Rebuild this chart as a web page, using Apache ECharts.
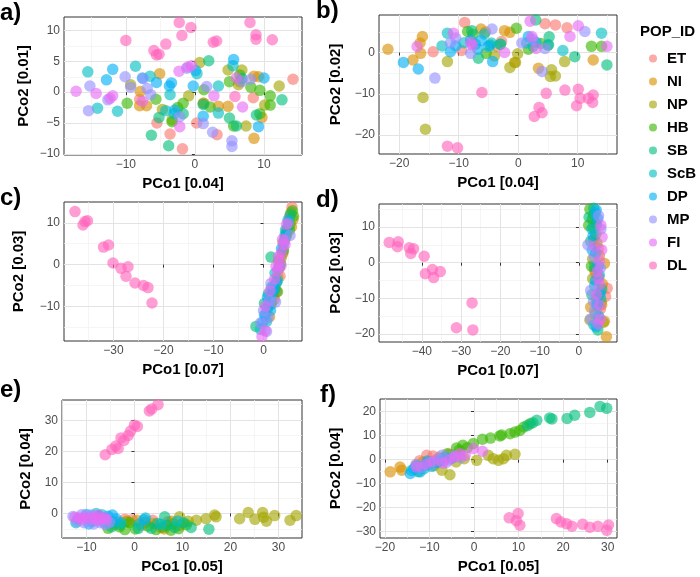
<!DOCTYPE html>
<html>
<head>
<meta charset="utf-8">
<script src="https://cdn.jsdelivr.net/npm/echarts@6/dist/echarts.min.js"></script>
<style>
html,body{margin:0;padding:0;background:#fff;}
#chart{width:700px;height:577px;}
</style>
</head>
<body>
<div id="chart"></div>
<script>
// ---- categories & colours ----
const POP_IDS = ['ET','NI','NP','HB','SB','ScB','DP','MP','FI','DL'];
const COLORS = ['#F8766D','#D89000','#A3A500','#39B600','#00BF7D','#00BFC4','#00B0F6','#9590FF','#E76BF3','#FF62BC'];
const PANEL_LABELS = ['a)','b)','c)','d)','e)','f)'];
const X_TITLES = ['PCo1 [0.04]','PCo1 [0.04]','PCo1 [0.07]','PCo1 [0.07]','PCo1 [0.05]','PCo1 [0.05]'];
const Y_TITLES = ['PCo2 [0.01]','PCo2 [0.02]','PCo2 [0.03]','PCo2 [0.03]','PCo2 [0.04]','PCo2 [0.04]'];

// ---- tick values ----
const A_X_TICKS = [-10,0,10];            const A_X_MINOR = [-15,-5,5,15];
const A_Y_TICKS = [-10,-5,0,5,10];       const A_Y_MINOR = [-7.5,-2.5,2.5,7.5];
const B_X_TICKS = [-20,-10,0,10];        const B_X_MINOR = [-15,-5,5,15];
const B_Y_TICKS = [-20,-10,0];           const B_Y_MINOR = [-15,-5,5];
const C_X_TICKS = [-30,-20,-10,0];       const C_X_MINOR = [-35,-25,-15,-5,5];
const C_Y_TICKS = [-10,0,10];            const C_Y_MINOR = [-15,-5,5];
const D_X_TICKS = [-40,-30,-20,-10,0];   const D_X_MINOR = [-45,-35,-25,-15,-5,5];
const D_Y_TICKS = [-20,-10,0,10];        const D_Y_MINOR = [-15,-5,5,15];
const E_X_TICKS = [-10,0,10,20,30];      const E_X_MINOR = [-15,-5,5,15,25];
const E_Y_TICKS = [0,10,20,30];          const E_Y_MINOR = [-5,5,15,25,35];
const F_X_TICKS = [-20,-10,0,10,20,30];  const F_X_MINOR = [-15,-5,5,15,25];
const F_Y_TICKS = [-30,-20,-10,0,10,20]; const F_Y_MINOR = [-25,-15,-5,5,15];

// ---- panel a ----
const A_ET = [[-5.5,-5.0],[-3.6,-6.8],[-1.8,-9.2],[0.25,-5.0],[3.2,-6.9],[8.45,-0.9],[14.2,2.1],[-8.0,-1.2]];
const A_NI = [[-7.9,0.1],[-7.0,-2.2],[-5.1,3.0],[-8.0,-2.2],[1.2,-1.8],[3.4,-2.3],[4.8,-2.3],[6.5,1.7],[8.55,2.6],[9.2,2.5],[9.7,-4.1],[8.55,-7.5]];
const A_NP = [[-9.3,1.2],[-4.7,-2.8],[-0.9,-0.6],[0.7,4.8],[1.3,-1.8],[4.8,3.6],[6.8,3.6],[7.4,-5.5],[10.1,-2.1],[12.2,1.0],[-3.3,-4.5],[6.3,1.2]];
const A_HB = [[-9.8,-1.8],[-5.65,-1.15],[-3.3,-4.8],[-1.7,-1.8],[1.3,0.4],[2.2,-2.4],[5.0,1.7],[6.5,2.8],[8.1,0.8],[9.4,0.3],[10.9,-2.1],[5.6,-5.5],[9.4,-3.5],[10.9,-0.6],[-2.5,-2.5]];
const A_SB = [[-6.3,-7.0],[-3.8,-8.7],[2.0,5.1],[-5.2,-4.1],[8.9,-3.7],[12.6,-1.25],[5.0,-4.2],[6.0,-5.5],[-1.7,-3.5],[1.2,-2.0],[6.8,2.2]];
const A_ScB = [[-15.5,3.3],[-14.1,-2.6],[-11.2,-3.1],[-8.6,4.2],[-6.5,2.6],[-3.6,-0.4],[3.4,1.0],[3.4,-3.4],[5.5,4.3],[-4.2,-3.0],[0.3,3.0],[-3.0,-3.5]];
const A_DP = [[-12.8,2.0],[-11.9,3.7],[-7.6,2.3],[-5.56,1.56],[-3.4,1.5],[-0.24,1.0],[0.1,3.5],[5.6,5.3],[9.2,-5.6],[10.0,2.3],[1.2,-3.9],[-2.9,-2.9],[-3.7,1.0]];
const A_MP = [[-15.2,1.0],[-15.4,-3.0],[-12.6,-1.25],[-10.1,2.5],[-9.3,0.8],[-6.9,0.6],[-6.4,-0.4],[-1.2,3.9],[1.2,-5.1],[2.56,-6.5],[5.36,-7.9],[5.36,-8.8],[8.07,2.1],[-2.2,-4.0],[1.7,0.9],[6.8,1.7],[-7.5,2.2]];
const A_FI = [[-17.2,0.15],[-14.3,-0.2],[-11.9,-0.6],[-2.3,3.4],[-1.0,4.1],[-0.5,4.3],[-7.6,-1.5],[6.9,-2.4],[6.0,2.3],[2.75,-0.6],[-2.2,-5.6],[-12.3,-1.0]];
const A_DL = [[-2.27,11.3],[-0.58,10.5],[-1.88,9.2],[-10.0,8.4],[-5.94,6.75],[-5.56,6.05],[-5.2,6.16],[-4.2,7.8],[2.66,8.1],[3.14,8.3],[7.97,11.3],[8.84,9.3],[8.84,8.6],[11.2,8.5],[5.8,-0.7]];

// ---- panel b ----
const B_ET = [[-14.3,0.2],[-9.0,7.3],[-9.5,0.5],[-2.8,2.7],[4.5,7.0],[6.25,6.7],[8.2,6.0],[-3.5,1.5]];
const B_NI = [[-21.9,0.8],[-16.1,3.9],[-16.5,2.3],[-17.7,-1.8],[-16.4,-0.2],[-6.25,5.7],[-2.3,5.3],[-1.4,4.9],[-0.6,-2.4],[3.4,-3.8],[12.6,-1.8],[-5.5,5.0]];
const B_NP = [[-11.9,-2.2],[-16.0,-10.9],[-15.6,-18.6],[-1.4,-3.6],[-0.1,-0.3],[-0.45,-2.4],[5.6,-4.2],[5.4,-5.8],[6.25,-5.7],[7.8,-2.2],[-4.0,-0.8]];
const B_HB = [[-8.5,5.1],[-0.3,5.9],[-5.4,-0.2],[-7.6,4.4],[1.7,0.8],[5.0,1.8],[12.3,1.5],[14.0,1.5],[-3.0,2.0],[3.8,2.2]];
const B_SB = [[-6.7,-1.4],[2.95,7.9],[-7.8,5.3],[9.5,-1.0],[14.9,-3.0],[5.2,3.8],[-4.7,1.8],[2.5,1.5]];
const B_ScB = [[-12.8,1.6],[-11.9,4.7],[-9.1,2.4],[-4.5,2.3],[-5.7,4.5],[1.4,2.3],[5.1,1.9],[14.0,4.7],[-3.0,2.0],[7.5,0.5],[-7.2,2.0]];
const B_DP = [[-19.3,-2.4],[-16.8,-4.0],[-10.5,1.6],[-6.8,0.8],[-4.3,-2.2],[-6.25,2.9],[1.7,3.9],[-11.4,0.2],[3.0,2.5],[-8.0,3.0],[-5.0,1.5]];
const B_MP = [[-14.0,-6.2],[-11.4,2.3],[-4.4,5.7],[-8.0,-0.2],[0.6,2.3],[4.0,-4.6],[11.2,5.1],[4.5,1.0],[-10.5,3.5],[2.4,3.2]];
const B_FI = [[-17.0,1.45],[-10.9,4.7],[-8.0,2.4],[-2.3,0.0],[2.0,7.6],[2.3,3.9],[10.1,6.5],[14.9,1.5],[3.0,1.0],[8.7,3.9],[-7.7,1.8]];
const B_DL = [[-6.1,-9.7],[-11.9,-22.7],[-10.2,-23.1],[4.7,-9.9],[3.5,-13.3],[2.7,-15.5],[4.0,-14.6],[7.85,-9.1],[10.1,-8.9],[10.4,-11.1],[11.8,-11.1],[12.6,-10.3],[12.5,-12.1],[9.8,-12.9]];

// ---- panel c ----
const C_ET = [[5.7,13.8],[5.2,11.5],[4.6,7.8],[3.8,2.5],[3.3,-2.8],[2.6,-6.5],[4.9,9.2],[2.2,-8.3]];
const C_NI = [[5.5,12.5],[5.9,10.8],[4.4,6.5],[3.9,5.2],[2.8,-3.0],[2.0,-7.5],[1.2,-12.5],[4.7,8.0],[3.0,0.8],[5.6,9.0]];
const C_NP = [[5.0,10.2],[4.2,5.7],[3.5,1.5],[2.5,-4.5],[1.6,-9.0],[4.6,7.2],[3.1,-1.0],[1.8,-7.0],[3.9,3.0]];
const C_HB = [[5.8,12.9],[6.0,11.6],[5.3,9.7],[4.5,6.8],[3.4,0.2],[2.3,-5.8],[1.5,-9.5],[2.8,-6.5],[4.0,3.5],[5.2,8.3]];
const C_SB = [[5.4,12.0],[4.8,8.6],[1.5,1.8],[2.0,-5.2],[0.8,-10.5],[-1.5,-14.8],[3.2,-0.5],[1.0,-7.0],[0.2,-9.3]];
const C_ScB = [[4.4,8.3],[2.3,-2.0],[1.4,-8.2],[0.4,-12.0],[-0.6,-15.5],[0.6,-13.6],[2.8,-3.8],[1.6,-5.5]];
const C_DP = [[4.9,10.6],[3.6,3.8],[2.6,-4.2],[1.8,-6.6],[1.0,-9.8],[0.2,-12.1],[-0.2,-13.8],[2.1,-6.0],[4.3,7.0],[0.8,-7.8],[1.4,-11.0]];
const C_MP = [[5.0,9.9],[5.3,7.0],[4.0,4.8],[3.0,-0.8],[1.2,-8.6],[0.0,-11.0],[-0.6,-14.0],[0.6,-16.0],[2.4,-9.0],[4.2,5.8],[0.9,-12.8],[1.5,-4.5]];
const C_FI = [[4.6,9.6],[4.3,4.8],[3.6,2.9],[3.2,0.9],[2.8,-1.5],[3.5,-0.3],[2.2,-3.5],[1.3,-6.3],[0.4,-10.0],[-0.3,-17.2],[0.3,-15.8],[3.0,1.9],[2.5,-0.4],[3.8,6.0]];
const C_DL = [[-37.7,12.7],[-35.7,10.3],[-35.2,10.5],[-36.1,9.5],[-32.0,4.2],[-31.0,4.7],[-30.1,0.4],[-28.5,-0.9],[-27.1,-0.5],[-27.5,-2.8],[-25.7,-4.4],[-24.0,-5.0],[-23.1,-5.5],[-22.3,-9.2]];

// ---- panel d ----
const D_ET = [[4.5,10.5],[5.0,4.0],[6.8,-9.5],[4.2,-3.0],[5.5,-13.0],[7.2,-7.2]];
const D_NI = [[5.2,2.0],[6.5,-0.2],[4.0,-2.0],[6.0,-6.0],[3.0,-12.5],[6.5,-16.5],[7.0,-20.8],[5.2,-8.8],[3.8,6.5],[5.8,-11.8]];
const D_NP = [[4.6,5.5],[3.5,-4.5],[2.8,-16.1],[5.7,-11.0],[6.2,-16.8],[4.2,-14.5],[3.5,1.0]];
const D_HB = [[2.8,15.0],[3.8,13.5],[2.5,10.5],[4.3,8.0],[3.4,12.2],[5.0,-4.0],[3.2,-1.0],[4.5,-10.5],[3.6,9.8]];
const D_SB = [[3.8,15.3],[2.6,12.8],[4.4,11.0],[3.0,6.0],[5.8,-7.5],[4.8,-18.9],[3.3,-9.0],[4.0,-1.2]];
const D_ScB = [[4.2,14.0],[3.3,9.5],[4.0,-6.5],[5.5,-10.0],[4.6,-12.0],[3.8,-17.5],[5.2,-3.5],[4.3,2.8]];
const D_DP = [[4.4,14.8],[4.8,12.3],[3.6,7.5],[4.2,-5.0],[5.4,-8.5],[4.7,-11.5],[5.0,-15.0],[4.4,-18.0],[3.4,3.5],[4.9,-1.0]];
const D_MP = [[5.0,13.2],[2.3,5.0],[3.9,1.5],[5.5,-1.5],[3.0,-7.8],[4.0,-13.5],[3.0,-15.8],[5.6,9.5],[3.7,-10.8]];
const D_FI = [[5.6,10.5],[5.8,3.6],[5.2,0.5],[4.7,-2.5],[5.3,-6.2],[4.5,-9.0],[5.3,-12.0],[5.5,-15.9],[4.9,-17.2],[4.0,4.6],[5.0,-4.5],[5.9,7.2]];
const D_DL = [[-48.3,5.7],[-46.0,5.9],[-46.2,4.5],[-43.2,4.2],[-42.1,3.9],[-42.8,2.6],[-39.4,1.8],[-37.3,-1.9],[-39.1,-3.1],[-35.3,-2.5],[-37.0,-4.2],[-27.2,-11.3],[-31.2,-18.3],[-27.0,-18.9]];

// ---- panel e ----
const E_ET = [[-3.6,-2.7],[-0.5,-2.0],[1.5,-3.8],[3.8,-2.2],[5.5,-4.5],[7.0,-2.6],[-2.0,-1.9]];
const E_NI = [[-4.2,-3.6],[-1.5,-2.5],[0.5,-2.2],[2.2,-2.9],[4.0,-3.2],[6.2,-5.0],[7.8,-2.5],[9.5,-3.8]];
const E_NP = [[-1.7,-2.7],[9.4,-1.1],[12.9,-2.2],[14.9,-1.7],[16.7,-0.5],[17.0,-1.1],[21.9,-1.7],[23.7,0.3],[25.1,-1.9],[26.7,0.3],[26.9,-1.2],[27.5,-2.5],[29.2,-0.7],[32.4,-2.2],[33.7,-0.7],[11.2,-2.5]];
const E_HB = [[-5.5,-4.8],[-3.1,-4.3],[-1.0,-3.0],[0.2,-5.0],[2.8,-4.1],[4.5,-5.2],[6.0,-4.4],[7.6,-5.4],[9.2,-4.9],[10.8,-3.6],[8.0,-3.4],[-2.0,-5.2]];
const E_SB = [[-4.8,-4.3],[-3.0,-3.6],[3.5,-4.8],[6.3,-1.1],[6.8,-3.8],[8.4,-4.5],[10.2,-3.0],[11.8,-4.5],[15.5,-5.1],[0.8,-4.8],[4.8,-3.2]];
const E_ScB = [[-12.2,-3.0],[-8.0,0.0],[-6.8,-0.4],[-4.5,-2.8],[2.3,-1.5],[1.0,-3.4],[5.5,-3.5],[9.0,-2.4],[-2.8,-3.0]];
const E_DP = [[-11.8,-1.8],[-10.0,-0.3],[-8.8,-2.6],[-7.4,-0.8],[-5.5,-0.9],[-4.6,-0.5],[-3.8,-1.8],[-6.5,-2.7],[2.0,-2.0],[-9.5,-3.4]];
const E_MP = [[-12.8,-1.0],[-12.0,-2.6],[-10.5,-3.0],[-9.5,-2.2],[-8.5,-3.4],[-7.2,-3.0],[-6.0,-3.6],[-11.0,-0.4],[-5.2,-2.8],[-9.0,-0.5]];
const E_FI = [[-12.4,-1.2],[-11.5,-1.5],[-10.2,-1.0],[-9.0,-1.6],[-7.5,-0.6],[-7.0,-1.8],[-6.2,-1.3],[-8.2,-1.0],[-5.8,-2.0],[-10.8,-2.0],[-7.8,-2.3]];
const E_DL = [[-6.1,18.9],[-4.7,20.6],[-3.9,21.7],[-3.4,20.9],[-2.8,24.3],[-1.3,25.1],[-0.8,26.5],[0.0,28.4],[0.6,28.0],[3.1,33.0],[3.6,33.6],[4.9,35.0],[-2.2,23.5]];

// ---- panel f ----
const F_ET = [[-10.6,1.8],[-9.2,1.5],[-7.8,1.0],[-12.2,-0.5],[-5.5,2.4],[-8.5,-0.2]];
const F_NI = [[-18.8,-5.1],[-16.2,-4.4],[-16.6,-3.1],[-13.0,-2.5],[-10.0,-0.8],[-7.5,0.5],[-11.5,-1.0]];
const F_NP = [[-5.4,-6.3],[-7.2,-4.4],[0.6,-0.3],[4.3,0.4],[5.5,-0.3],[6.6,0.4],[7.3,1.8],[9.2,2.2],[-2.2,0.4],[3.2,1.8],[-9.0,-2.5],[-4.0,-1.0]];
const F_HB = [[-3.9,4.9],[-3.3,3.9],[-2.5,6.0],[-0.15,6.7],[1.9,8.5],[3.7,9.0],[5.8,9.9],[6.2,10.3],[8.1,10.8],[10.3,12.2],[11.2,13.6],[12.6,15.0],[9.2,11.5],[-6.0,2.5],[-1.5,5.0]];
const F_SB = [[14.1,16.4],[13.2,15.4],[17.0,17.4],[17.5,17.0],[20.9,17.2],[22.6,18.5],[26.0,19.7],[28.3,22.2],[29.8,21.4],[12.0,14.2],[-12.5,-5.0]];
const F_ScB = [[-14.0,-4.5],[-12.8,-2.6],[-10.2,-1.5],[-8.0,-0.8],[-6.5,1.0],[-11.2,-3.8]];
const F_DP = [[-14.3,-5.8],[-12.1,-5.1],[-13.5,-3.8],[-11.0,-2.3],[-9.5,-2.8],[-8.2,-1.2],[-6.8,-0.3],[-5.0,0.6],[-10.5,-0.6]];
const F_MP = [[-13.0,-2.0],[-11.8,-3.3],[-9.8,-1.0],[-8.0,0.2],[-6.2,-1.2],[-4.5,1.5],[-3.0,0.8],[-7.2,1.8]];
const F_FI = [[-12.9,-3.1],[-9.1,-0.7],[-3.1,2.5],[-2.0,1.8],[-0.15,4.6],[1.9,3.5],[-5.5,0.0],[-7.0,-1.5],[-4.2,1.2],[-10.8,-2.0]];
const F_DL = [[7.9,-24.3],[9.9,-22.5],[10.3,-27.4],[18.5,-24.6],[19.5,-26.0],[20.8,-26.8],[22.0,-27.8],[24.4,-27.0],[26.0,-28.2],[27.8,-27.8],[29.8,-29.5],[30.2,-27.3],[9.5,-25.5]];

const PANEL_DATA = [
  [A_ET,A_NI,A_NP,A_HB,A_SB,A_ScB,A_DP,A_MP,A_FI,A_DL],
  [B_ET,B_NI,B_NP,B_HB,B_SB,B_ScB,B_DP,B_MP,B_FI,B_DL],
  [C_ET,C_NI,C_NP,C_HB,C_SB,C_ScB,C_DP,C_MP,C_FI,C_DL],
  [D_ET,D_NI,D_NP,D_HB,D_SB,D_ScB,D_DP,D_MP,D_FI,D_DL],
  [E_ET,E_NI,E_NP,E_HB,E_SB,E_ScB,E_DP,E_MP,E_FI,E_DL],
  [F_ET,F_NI,F_NP,F_HB,F_SB,F_ScB,F_DP,F_MP,F_FI,F_DL]
];
const PANEL_TICKS = [
  {xt:A_X_TICKS,xm:A_X_MINOR,yt:A_Y_TICKS,ym:A_Y_MINOR},
  {xt:B_X_TICKS,xm:B_X_MINOR,yt:B_Y_TICKS,ym:B_Y_MINOR},
  {xt:C_X_TICKS,xm:C_X_MINOR,yt:C_Y_TICKS,ym:C_Y_MINOR},
  {xt:D_X_TICKS,xm:D_X_MINOR,yt:D_Y_TICKS,ym:D_Y_MINOR},
  {xt:E_X_TICKS,xm:E_X_MINOR,yt:E_Y_TICKS,ym:E_Y_MINOR},
  {xt:F_X_TICKS,xm:F_X_MINOR,yt:F_Y_TICKS,ym:F_Y_MINOR}
];

// ---- layout (pixels) and axis limits ----
const LAYOUT = [
  {left:64, top:17, right:302, bottom:155, xMin:-18.95, xMax:15.5, yMin:-10.2, yMax:12.2, yGap:33, lx:0, ly:1},
  {left:379, top:15, right:617, bottom:154, xMin:-23.4, xMax:16.6, yMin:-24.6, yMax:9.1, yGap:36, lx:316, ly:-1},
  {left:64, top:202, right:302, bottom:341, xMin:-39.9, xMax:7.7, yMin:-18.3, yMax:15.0, yGap:38, lx:0, ly:186},
  {left:379, top:204, right:617, bottom:342, xMin:-50.9, xMax:9.7, yMin:-22.3, yMax:16.5, yGap:36, lx:316, ly:188},
  {left:62, top:400, right:302, bottom:538, xMin:-15.1, xMax:34.9, yMin:-7.9, yMax:36.5, yGap:29, lx:0, ly:378},
  {left:380, top:399, right:617, bottom:538, xMin:-21.1, xMax:32.1, yMin:-32.7, yMax:25.3, yGap:37, lx:320, ly:383}
];

const FONT = "'Liberation Sans', Arial, Helvetica, sans-serif";
const fmt = v => (v < 0 ? '\u2212' + Math.abs(v) : String(v));

const grids = [], xAxes = [], yAxes = [], series = [], graphics = [];
LAYOUT.forEach((L, i) => {
  const T = PANEL_TICKS[i];
  grids.push({left:L.left, top:L.top, width:L.right-L.left, height:L.bottom-L.top,
    show:true, borderColor:'#333333', borderWidth:1, backgroundColor:'#ffffff'});
  xAxes.push({gridIndex:i, type:'value', min:L.xMin, max:L.xMax, position:'bottom',
    axisLine:{show:false},
    axisTick:{show:true, length:3, lineStyle:{color:'#333333'}, customValues:T.xt},
    axisLabel:{customValues:T.xt, color:'#4d4d4d', fontSize:12, fontFamily:FONT, margin:4, formatter:fmt},
    splitLine:{show:true, lineStyle:{color:'#e3e3e3', width:1}},
    name:X_TITLES[i], nameLocation:'middle', nameGap:21,
    nameTextStyle:{fontWeight:'bold', fontSize:15, color:'#000', fontFamily:FONT}, z:2});
  xAxes.push({gridIndex:i, type:'value', min:L.xMin, max:L.xMax, position:'top',
    axisLine:{show:false}, axisTick:{show:false, customValues:T.xm},
    axisLabel:{show:false, customValues:T.xm},
    splitLine:{show:true, lineStyle:{color:'#f1f1f1', width:0.7}}, z:1});
  yAxes.push({gridIndex:i, type:'value', min:L.yMin, max:L.yMax, position:'left',
    axisLine:{show:false},
    axisTick:{show:true, length:3, lineStyle:{color:'#333333'}, customValues:T.yt},
    axisLabel:{customValues:T.yt, color:'#4d4d4d', fontSize:12, fontFamily:FONT, margin:4, formatter:fmt},
    splitLine:{show:true, lineStyle:{color:'#e3e3e3', width:1}},
    name:Y_TITLES[i], nameLocation:'middle', nameGap:L.yGap, nameRotate:90,
    nameTextStyle:{fontWeight:'bold', fontSize:15, color:'#000', fontFamily:FONT}, z:2});
  yAxes.push({gridIndex:i, type:'value', min:L.yMin, max:L.yMax, position:'right',
    axisLine:{show:false}, axisTick:{show:false, customValues:T.ym},
    axisLabel:{show:false, customValues:T.ym},
    splitLine:{show:true, lineStyle:{color:'#f1f1f1', width:0.7}}, z:1});

  PANEL_DATA[i].forEach((pts, g) => {
    series.push({type:'scatter', name:POP_IDS[g], xAxisIndex:2*i, yAxisIndex:2*i,
      data:pts, symbol:'circle', symbolSize:11.5,
      itemStyle:{color:COLORS[g], opacity:0.62}, z:3, silent:true});
  });

  graphics.push({type:'text', left:L.lx, top:L.ly,
    style:{text:PANEL_LABELS[i], font:"bold 24px " + FONT, fill:'#000'}});
});

graphics.push({type:'text', left:640, top:24,
  style:{text:'POP_ID', font:"bold 15px " + FONT, fill:'#000'}});

const chart = echarts.init(document.getElementById('chart'), null, {renderer:'canvas'});
chart.setOption({
  animation:false,
  backgroundColor:'#ffffff',
  grid:grids, xAxis:xAxes, yAxis:yAxes, series:series,
  legend:{data:POP_IDS, orient:'vertical', left:644, top:46, icon:'circle',
    itemWidth:18, itemHeight:8, itemGap:8, selectedMode:false,
    textStyle:{fontWeight:'bold', fontSize:15, lineHeight:15, color:'#000', fontFamily:FONT}},
  graphic:graphics
});
</script>
</body>
</html>
